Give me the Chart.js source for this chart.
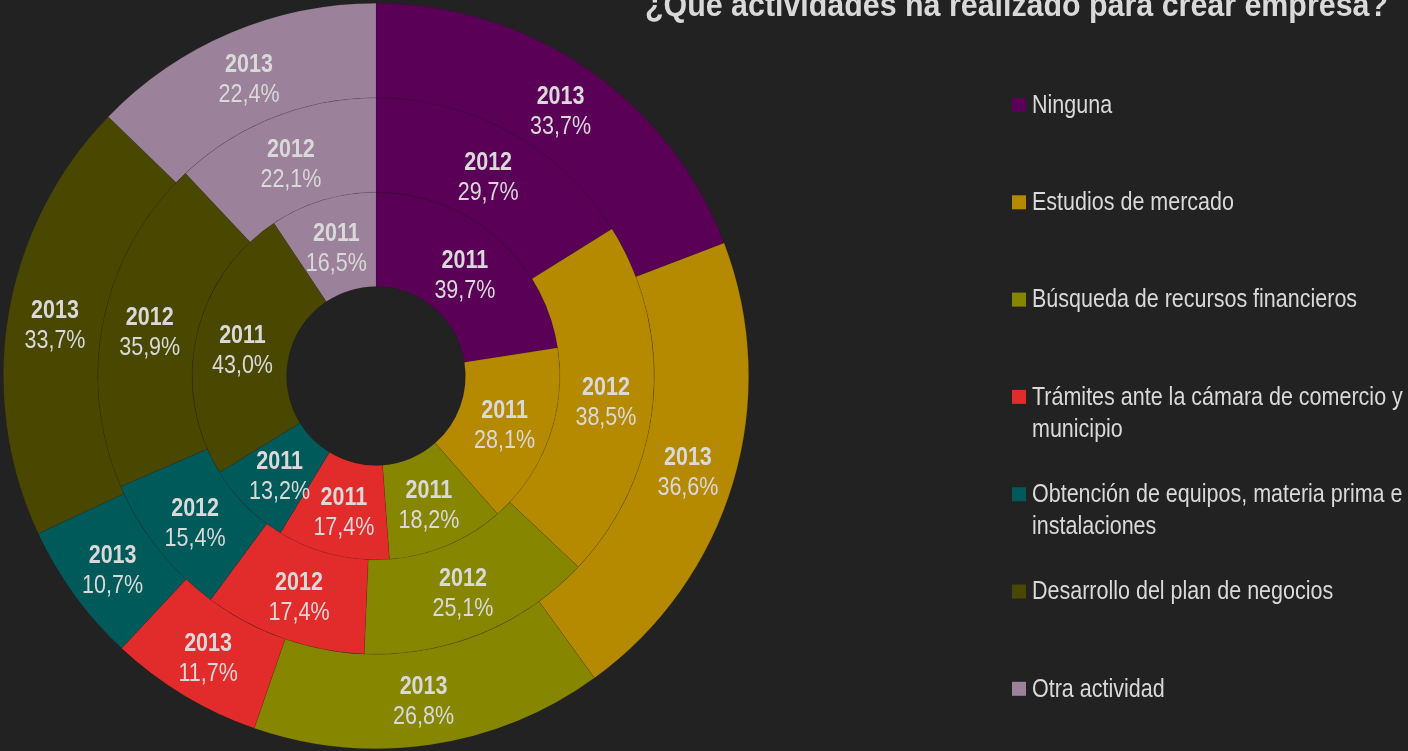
<!DOCTYPE html>
<html lang="es">
<head>
    <meta charset="UTF-8">
    <title>¿Qué actividades ha realizado para crear empresa?</title>
    <style>
        html, body {
            margin: 0;
            padding: 0;
            background-color: #222222;
            overflow: hidden;
        }
        #chart {
            display: block;
        }
    </style>
</head>
<body>
    <canvas id="chart" width="1408" height="751"></canvas>

    <script src="https://cdn.jsdelivr.net/npm/chart.js@4.4.0/dist/chart.umd.js"></script>
    <script>
        // Data
        const categories = [
            'Ninguna',
            'Estudios de mercado',
            'Búsqueda de recursos financieros',
            'Trámites ante la cámara de comercio y municipio',
            'Obtención de equipos, materia prima e instalaciones',
            'Desarrollo del plan de negocios',
            'Otra actividad'
        ];
        // outer ring first
        const years = ['2013', '2012', '2011'];
        const values2013 = [33.7, 36.6, 26.8, 11.7, 10.7, 33.7, 22.4];
        const values2012 = [29.7, 38.5, 25.1, 17.4, 15.4, 35.9, 22.1];
        const values2011 = [39.7, 28.1, 18.2, 17.4, 13.2, 43.0, 16.5];
        const colors = ['#5b0057', '#b58900', '#878600', '#e22c2c', '#005a5a', '#4a4800', '#9b8199'];

        const chartTitle = '¿Qué actividades ha realizado para crear empresa?';
        const textColor = '#d9d9d9';
        const fontFamily = '"Liberation Sans", Arial, sans-serif';
        // no narrow font installed, so text is squeezed horizontally
        const squeeze = 0.86;

        function drawText(ctx, text, x, y, sx) {
            ctx.save();
            ctx.translate(x, y);
            ctx.scale(sx, 1);
            ctx.fillText(text, 0, 0);
            ctx.restore();
        }

        // Year + percentage in the middle of each ring segment
        const ringLabels = {
            id: 'ringLabels',
            afterDatasetsDraw(chart) {
                const ctx = chart.ctx;
                ctx.save();
                ctx.fillStyle = textColor;
                ctx.textAlign = 'center';
                ctx.textBaseline = 'middle';
                chart.data.datasets.forEach((ds, i) => {
                    const meta = chart.getDatasetMeta(i);
                    meta.data.forEach((arc, j) => {
                        const p = arc.getProps(['x', 'y', 'startAngle', 'endAngle', 'innerRadius', 'outerRadius'], true);
                        const a = (p.startAngle + p.endAngle) / 2;
                        const r = (p.innerRadius + p.outerRadius) / 2;
                        const x = p.x + Math.cos(a) * r;
                        const y = p.y + Math.sin(a) * r;
                        ctx.font = 'bold 25px ' + fontFamily;
                        drawText(ctx, ds.label, x, y - 11, squeeze);
                        ctx.font = '25px ' + fontFamily;
                        drawText(ctx, ds.data[j].toFixed(1).replace('.', ',') + '%', x, y + 19, squeeze);
                    });
                });
                ctx.restore();
            }
        };

        // Title and legend on the right side
        const sideText = {
            id: 'sideText',
            afterDraw(chart) {
                const ctx = chart.ctx;
                ctx.save();
                ctx.fillStyle = textColor;
                ctx.font = 'bold 33px ' + fontFamily;
                ctx.textAlign = 'left';
                ctx.textBaseline = 'alphabetic';
                const tw = ctx.measureText(chartTitle).width;
                drawText(ctx, chartTitle, 645, 16, 743 / tw);

                ctx.font = '25px ' + fontFamily;
                ctx.textBaseline = 'middle';
                categories.forEach((name, i) => {
                    const y = 106 + i * 97.3;
                    ctx.fillStyle = colors[i];
                    ctx.fillRect(1012, y - 8, 14, 14);
                    ctx.fillStyle = textColor;
                    // wrap long names
                    const words = name.split(' ');
                    let line = '';
                    let ly = y;
                    words.forEach(w => {
                        const test = line ? line + ' ' + w : w;
                        if (line && ctx.measureText(test).width * squeeze > 390) {
                            drawText(ctx, line, 1032, ly, squeeze);
                            line = w;
                            ly += 32;
                        } else {
                            line = test;
                        }
                    });
                    drawText(ctx, line, 1032, ly, squeeze);
                });
                ctx.restore();
            }
        };

        const datasets = [values2013, values2012, values2011].map((vals, i) => ({
            label: years[i],
            data: vals,
            backgroundColor: colors,
            borderColor: 'rgba(0,0,0,0.15)',
            borderWidth: 0.6
        }));

        new Chart(document.getElementById('chart'), {
            type: 'doughnut',
            data: { labels: categories, datasets },
            options: {
                responsive: false,
                animation: false,
                cutout: '24%',
                layout: {
                    padding: { left: 3, top: 3, right: 659, bottom: 2 }
                },
                plugins: {
                    legend: { display: false },
                    title: { display: false },
                    tooltip: { enabled: false }
                }
            },
            plugins: [ringLabels, sideText]
        });
    </script>
</body>
</html>
